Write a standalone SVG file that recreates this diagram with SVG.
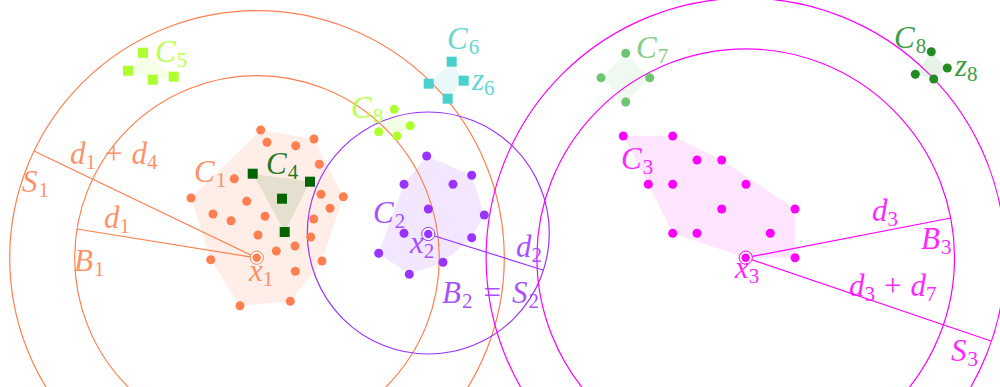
<svg xmlns="http://www.w3.org/2000/svg" width="1000" height="387" viewBox="0 0 1000 387">
<style>
text{font-family:"Liberation Serif","DejaVu Serif",serif;font-size:31px;opacity:0.85}
.i{font-style:italic}
.s{font-size:21px}
.ring{fill:none;stroke-width:1.2}
.ln{stroke-width:1.2;fill:none}
.o{fill:#ff7f50}.p{fill:#9933ff}.m{fill:#ff00ff}.gy{fill:#adff2f}.tq{fill:#48d1cc}.g7{fill:#6fc46f}.g8{fill:#228b22}.dg{fill:#006400}
</style>
<rect width="1000" height="387" fill="#ffffff"/>
<g id="hulls">
<polygon points="260.7,130 314,139 343.3,196.7 322,261 290.3,301.3 240,305.7 210.7,259.7 191,198" fill="#ff7f50" fill-opacity="0.13"/>
<polygon points="252.7,173.7 310,181.7 284.7,232" fill="#006400" fill-opacity="0.1"/>
<polygon points="426.7,156 471.7,175.3 484.3,215 471.7,237.7 443,262.3 409.3,274.3 378.7,253.3 404,184.3" fill="#9933ff" fill-opacity="0.12"/>
<polygon points="623.3,136 672.7,136 721.7,160 795,209 795,257.7 745.7,257.7 672.7,233.3 648.3,184.3" fill="#ff00ff" fill-opacity="0.1"/>
<polygon points="143,52.7 173.7,76.7 152.7,79.7 128,70.7" fill="#adff2f" fill-opacity="0.12"/>
<polygon points="451.7,61.7 463.7,80.7 447.7,98.7 428.7,83.7" fill="#48d1cc" fill-opacity="0.12"/>
<polygon points="394.3,109.3 410.3,125.7 397,136 378.7,131.7" fill="#adff2f" fill-opacity="0.12"/>
<polygon points="625.7,53.3 649.7,77.7 625.7,102 601,77.7" fill="#6fc46f" fill-opacity="0.1"/>
<polygon points="931.3,51.7 947.3,68 933.7,79 915.3,74.3" fill="#228b22" fill-opacity="0.1"/>
</g>
<g id="connectors">
<circle class="ring" cx="257" cy="258" r="182.3" stroke="#ff7f50"/>
<circle class="ring" cx="257" cy="258" r="247.3" stroke="#ff7f50"/>
<circle class="ring" cx="428.3" cy="233" r="121" stroke="#9933ff"/>
<circle class="ring" cx="745.7" cy="257.7" r="208.8" stroke="#ff00ff"/>
<circle class="ring" cx="745.7" cy="257.7" r="259.6" stroke="#ff00ff"/>
<line class="ln" x1="257" y1="258" x2="77" y2="229" stroke="#ff7f50"/>
<line class="ln" x1="257" y1="258" x2="34" y2="151" stroke="#ff7f50"/>
<line class="ln" x1="428.3" y1="234" x2="543" y2="270" stroke="#9933ff"/>
<line class="ln" x1="745.7" y1="257.7" x2="951" y2="218" stroke="#ff00ff"/>
<line class="ln" x1="745.7" y1="257.7" x2="991" y2="341" stroke="#ff00ff"/>
</g>
<g id="C1" class="o">
<circle cx="260.7" cy="130" r="4.5"/><circle cx="267" cy="142.3" r="4.5"/><circle cx="295.7" cy="145.7" r="4.5"/><circle cx="314" cy="139" r="4.5"/><circle cx="319.3" cy="164.3" r="4.5"/><circle cx="234.3" cy="178.7" r="4.5"/><circle cx="191" cy="198" r="4.5"/><circle cx="246.7" cy="201.3" r="4.5"/><circle cx="213" cy="214" r="4.5"/><circle cx="231" cy="220.7" r="4.5"/><circle cx="265" cy="216.3" r="4.5"/><circle cx="258" cy="235" r="4.5"/><circle cx="321" cy="194.3" r="4.5"/><circle cx="343.3" cy="196.7" r="4.5"/><circle cx="330" cy="208.3" r="4.5"/><circle cx="313.7" cy="219" r="4.5"/><circle cx="310.7" cy="237" r="4.5"/><circle cx="295" cy="246" r="4.5"/><circle cx="276.3" cy="251" r="4.5"/><circle cx="210.7" cy="259.7" r="4.5"/><circle cx="295.3" cy="271.3" r="4.5"/><circle cx="322" cy="261" r="4.5"/><circle cx="240" cy="305.7" r="4.5"/><circle cx="290.3" cy="301.3" r="4.5"/>
<circle cx="256.7" cy="257.7" r="6.6" fill="#ffffff" stroke="#ff7f50" stroke-width="1"/><circle cx="256.7" cy="257.7" r="4.2"/>
</g>
<g id="C4" class="dg">
<rect x="247.7" y="168.7" width="10" height="10"/><rect x="305" y="176.7" width="10" height="10"/><rect x="277" y="193.7" width="10" height="10"/><rect x="279.7" y="227" width="10" height="10"/>
</g>
<g id="C2" class="p">
<circle cx="426.7" cy="156" r="4.5"/><circle cx="404" cy="184.3" r="4.5"/><circle cx="453" cy="184.3" r="4.5"/><circle cx="471.7" cy="175.3" r="4.5"/><circle cx="428.3" cy="209" r="4.5"/><circle cx="484.3" cy="215" r="4.5"/><circle cx="404" cy="233.3" r="4.5"/><circle cx="471.7" cy="237.7" r="4.5"/><circle cx="378.7" cy="253.3" r="4.5"/><circle cx="443" cy="262.3" r="4.5"/><circle cx="409.3" cy="274.3" r="4.5"/>
<circle cx="428.3" cy="234" r="6.6" fill="#ffffff" stroke="#9933ff" stroke-width="1"/><circle cx="428.3" cy="234" r="4.2"/>
</g>
<g id="C3" class="m">
<circle cx="623.3" cy="136" r="4.5"/><circle cx="672.7" cy="136" r="4.5"/><circle cx="697" cy="160" r="4.5"/><circle cx="721.7" cy="160" r="4.5"/><circle cx="648.3" cy="184.3" r="4.5"/><circle cx="672.7" cy="184.3" r="4.5"/><circle cx="746" cy="184.3" r="4.5"/><circle cx="721.7" cy="209" r="4.5"/><circle cx="795" cy="209" r="4.5"/><circle cx="672.7" cy="233.3" r="4.5"/><circle cx="697" cy="233.3" r="4.5"/><circle cx="770.3" cy="233.3" r="4.5"/><circle cx="795" cy="257.7" r="4.5"/>
<circle cx="745.7" cy="257.7" r="6.6" fill="#ffffff" stroke="#ff00ff" stroke-width="1"/><circle cx="745.7" cy="257.7" r="4.2"/>
</g>
<g id="C5" class="gy">
<rect x="138" y="47.7" width="10" height="10"/><rect x="123" y="65.7" width="10" height="10"/><rect x="147.7" y="74.7" width="10" height="10"/><rect x="168.7" y="71.7" width="10" height="10"/>
</g>
<g id="C6" class="tq">
<rect x="446.7" y="56.7" width="10" height="10"/><rect x="423.7" y="78.7" width="10" height="10"/><rect x="458.7" y="75.7" width="10" height="10"/><rect x="442.7" y="93.7" width="10" height="10"/>
</g>
<g id="C9" class="gy">
<circle cx="394.3" cy="109.3" r="4.5"/><circle cx="378.7" cy="131.7" r="4.5"/><circle cx="410.3" cy="125.7" r="4.5"/><circle cx="397" cy="136" r="4.5"/>
</g>
<g id="C7" class="g7">
<circle cx="625.7" cy="53.3" r="4.5"/><circle cx="601" cy="77.7" r="4.5"/><circle cx="649.7" cy="77.7" r="4.5"/><circle cx="625.7" cy="102" r="4.5"/>
</g>
<g id="C8" class="g8">
<circle cx="931.3" cy="51.7" r="4.5"/><circle cx="915.3" cy="74.3" r="4.5"/><circle cx="947.3" cy="68" r="4.5"/><circle cx="933.7" cy="79" r="4.5"/>
</g>
<g id="labels">
<text x="155" y="62" class="gy"><tspan class="i">C</tspan><tspan class="s" dy="5" dx="1">5</tspan></text>
<text x="447" y="49" class="tq"><tspan class="i">C</tspan><tspan class="s" dy="5" dx="1">6</tspan></text>
<text x="472" y="90" class="tq"><tspan class="i">z</tspan><tspan class="s" dy="5">6</tspan></text>
<text x="351" y="118" class="gy"><tspan class="i">C</tspan><tspan class="s" dy="5" dx="1">8</tspan></text>
<text x="636" y="58" class="g7"><tspan class="i">C</tspan><tspan class="s" dy="5" dx="1">7</tspan></text>
<text x="894" y="48" class="g8"><tspan class="i">C</tspan><tspan class="s" dy="5" dx="1">8</tspan></text>
<text x="955" y="76" class="g8"><tspan class="i">z</tspan><tspan class="s" dy="5">8</tspan></text>
<text x="70" y="164" class="o"><tspan class="i">d</tspan><tspan class="s" dy="5">1</tspan><tspan dy="-5" dx="9">+</tspan><tspan class="i" dx="9">d</tspan><tspan class="s" dy="5">4</tspan></text>
<text x="22" y="192" class="o"><tspan class="i">S</tspan><tspan class="s" dy="5" dx="1">1</tspan></text>
<text x="194" y="182" class="o"><tspan class="i">C</tspan><tspan class="s" dy="5" dx="1">1</tspan></text>
<text x="266" y="174" class="dg"><tspan class="i">C</tspan><tspan class="s" dy="5" dx="1">4</tspan></text>
<text x="104" y="228" class="o"><tspan class="i">d</tspan><tspan class="s" dy="5">1</tspan></text>
<text x="74" y="271" class="o"><tspan class="i">B</tspan><tspan class="s" dy="5" dx="1">1</tspan></text>
<text x="249" y="281" class="o"><tspan class="i">x</tspan><tspan class="s" dy="5">1</tspan></text>
<text x="373" y="223" class="p"><tspan class="i">C</tspan><tspan class="s" dy="5" dx="1">2</tspan></text>
<text x="410" y="253" class="p"><tspan class="i">x</tspan><tspan class="s" dy="5">2</tspan></text>
<text x="516" y="257" class="p"><tspan class="i">d</tspan><tspan class="s" dy="5">2</tspan></text>
<text x="442" y="303" class="p"><tspan class="i">B</tspan><tspan class="s" dy="5" dx="1">2</tspan><tspan dy="-5" dx="11">=</tspan><tspan class="i" dx="11">S</tspan><tspan class="s" dy="5" dx="1">2</tspan></text>
<text x="621" y="169" class="m"><tspan class="i">C</tspan><tspan class="s" dy="5" dx="1">3</tspan></text>
<text x="735" y="278" class="m"><tspan class="i">x</tspan><tspan class="s" dy="5">3</tspan></text>
<text x="872" y="221" class="m"><tspan class="i">d</tspan><tspan class="s" dy="5">3</tspan></text>
<text x="921" y="249" class="m"><tspan class="i">B</tspan><tspan class="s" dy="5" dx="1">3</tspan></text>
<text x="849" y="296" class="m"><tspan class="i">d</tspan><tspan class="s" dy="5">3</tspan><tspan dy="-5" dx="9">+</tspan><tspan class="i" dx="9">d</tspan><tspan class="s" dy="5">7</tspan></text>
<text x="951" y="361" class="m"><tspan class="i">S</tspan><tspan class="s" dy="5" dx="1">3</tspan></text>
</g>
</svg>
